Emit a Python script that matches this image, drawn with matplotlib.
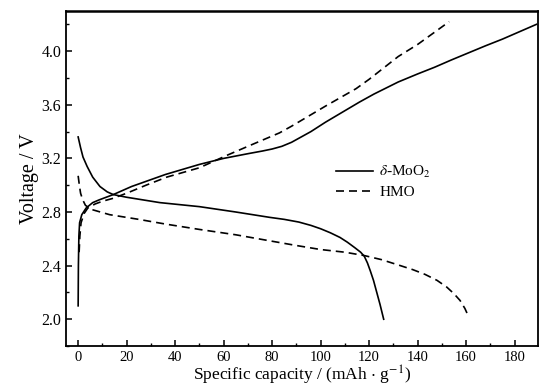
import numpy as np
import matplotlib
matplotlib.use('Agg')
import matplotlib.pyplot as plt
from matplotlib.ticker import MultipleLocator

matplotlib.rc('font', family='Liberation Serif', size=10.5)
matplotlib.rc('mathtext', fontset='stix')

# delta-MoO2, charge / discharge
moo2_chg_x = [0, 0.1, 0.3, 0.6, 1.5, 3.3, 6, 8.6, 14.5, 22, 36, 50, 60, 70, 76,
              80, 84, 88, 92, 96, 102, 109, 116, 122, 127, 132, 140, 147, 154,
              160, 168, 175, 182, 189]
moo2_chg_v = [2.10, 2.40, 2.62, 2.72, 2.78, 2.83, 2.87, 2.89, 2.93, 2.99, 3.08,
              3.155, 3.20, 3.235, 3.255, 3.27, 3.29, 3.32, 3.36, 3.40, 3.47,
              3.545, 3.62, 3.68, 3.725, 3.77, 3.83, 3.88, 3.935, 3.98, 4.04,
              4.09, 4.145, 4.20]
moo2_dis_x = [0, 1, 2, 3.7, 6, 9, 12, 14.5, 20, 33.7, 50, 65, 79, 85, 91, 96,
              100, 104, 108, 111, 114, 116.5, 118, 119.3, 120.5, 121.8, 123,
              124.5, 126]
moo2_dis_v = [3.36, 3.28, 3.21, 3.14, 3.06, 2.99, 2.95, 2.93, 2.91, 2.87, 2.84,
              2.80, 2.76, 2.745, 2.725, 2.70, 2.675, 2.645, 2.61, 2.575, 2.535,
              2.50, 2.47, 2.42, 2.36, 2.29, 2.21, 2.11, 2.00]

# HMO, charge / discharge
hmo_chg_x = [0.4, 0.7, 1.2, 2.5, 4, 7, 10, 14, 20, 28, 36.5, 50, 61, 70, 83, 88,
             102, 114.6, 120, 132, 140, 153]
hmo_chg_v = [2.50, 2.62, 2.72, 2.79, 2.83, 2.86, 2.88, 2.90, 2.94, 3.00, 3.06,
             3.13, 3.22, 3.29, 3.39, 3.44, 3.59, 3.72, 3.79, 3.96, 4.05, 4.22]
hmo_dis_x = [0, 0.5, 1, 1.9, 3, 5.3, 13, 25, 36, 50, 65, 79, 90, 100, 110, 118,
             125, 132, 138, 143, 148, 152, 155, 157.5, 159.5, 161]
hmo_dis_v = [3.07, 3.00, 2.94, 2.89, 2.85, 2.82, 2.78, 2.745, 2.71, 2.67, 2.63,
             2.585, 2.55, 2.52, 2.50, 2.475, 2.445, 2.405, 2.37, 2.335, 2.29,
             2.24, 2.19, 2.14, 2.08, 2.02]

fig = plt.figure(figsize=(5.39, 3.91), dpi=100)
ax = fig.add_axes([0.1225, 0.115, 0.875, 0.857])

ax.plot(moo2_chg_x, moo2_chg_v, color='black', lw=1.2, label=r'$\delta$-MoO$_2$')
ax.plot(moo2_dis_x, moo2_dis_v, color='black', lw=1.2)
ax.plot(hmo_chg_x, hmo_chg_v, color='black', lw=1.2, dashes=(4.8, 3.0), label='HMO')
ax.plot(hmo_dis_x, hmo_dis_v, color='black', lw=1.2, dashes=(4.8, 3.0))

ax.set_xlim(-5, 189.5)
ax.set_ylim(1.8, 4.3)
ax.xaxis.set_major_locator(MultipleLocator(20))
ax.xaxis.set_minor_locator(MultipleLocator(10))
ax.yaxis.set_major_locator(MultipleLocator(0.4))
ax.yaxis.set_minor_locator(MultipleLocator(0.2))
ax.yaxis.set_major_formatter(matplotlib.ticker.FormatStrFormatter('%.1f'))
ax.tick_params(which='both', direction='in', top=False, right=False)
ax.tick_params(which='major', length=4, width=1.1)
ax.tick_params(which='minor', length=2.5, width=1.0)
ax.tick_params(axis='y', labelsize=11.5)
ax.tick_params(axis='x', labelsize=10.5)
for s in ax.spines.values():
    s.set_linewidth(1.3)
ax.spines['top'].set_linewidth(1.8)

ax.set_xlabel(r'Specific capacity / (mAh $\cdot$ g$^{-1}$)', fontsize=12.5,
              labelpad=0)
ax.set_ylabel('Voltage / V', fontsize=14.5, labelpad=2)

ax.legend(loc='center left', bbox_to_anchor=(0.573, 0.49), frameon=False,
          borderpad=0, borderaxespad=0, handlelength=2.4, handletextpad=0.4,
          labelspacing=0.35, fontsize=11)

plt.savefig('out.png', dpi=100)
